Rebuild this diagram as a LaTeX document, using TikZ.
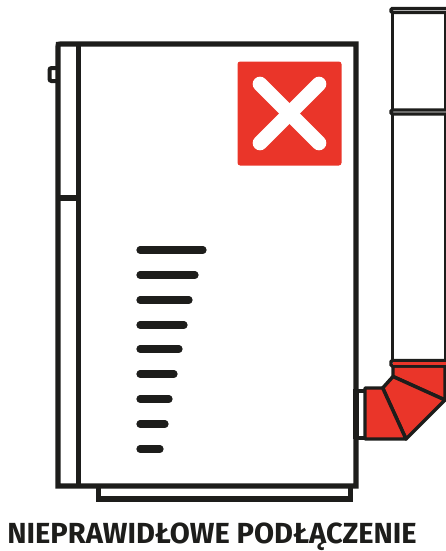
\documentclass[tikz,border=0pt]{standalone}
\usepackage{fontspec}
\setmainfont{Fira Sans}
\usepackage{xcolor}
\definecolor{ink}{HTML}{1D1D1B}
\definecolor{alarm}{HTML}{EA3529}
\tikzset{
  body/.style={draw=ink, line width=4pt},
  flue/.style={draw=ink, line width=2.2pt},
  collar/.style={draw=ink, line width=2.6pt},
  elbow/.style={draw=ink, fill=alarm, line width=2.6pt, line join=round},
}

\begin{document}
\begin{tikzpicture}[x=0.75pt,y=-0.75pt]
  \useasboundingbox (0,0) rectangle (446,551);

  % Base
  \draw[body] (98.5,486) -- (98.5,499) -- (350.5,499) -- (350.5,486);

  % Casing
  \draw[body] (58,47) .. controls (58,44) .. (61,44) -- (356,44) -- (356,486) -- (58,486) -- cycle;
  \draw[body] (78.5,44) -- (78.5,486);
  \draw[body] (58,198) -- (78.5,198);
  \draw[draw=ink, line width=3pt, rounded corners=1.5pt] (58,68) -- (49.5,68) -- (49.5,81) -- (58,81);

  % Display lines
  \foreach \ly/\lx in {250/203,275/195,300/189,325/184,349/179,374/174,399/169,424/165,449/160}
    \draw[draw=ink, line width=5.4pt, line cap=round] (140,\ly) -- (\lx,\ly);

  % Warning sign
  \fill[alarm, rounded corners=2pt] (237.5,61.5) rectangle (341.5,165.5);
  \draw[white, line width=11pt, line cap=round] (260,84) -- (319,143);
  \draw[white, line width=11pt, line cap=round] (319,84) -- (260,143);

  % Flue pipe
  \draw[flue] (392.7,12) -- (392.7,110);
  \draw[flue] (392.7,115) -- (392.7,362);
  \draw[flue] (445,12) -- (445,110);
  \draw[flue] (445,115) -- (445,362);
  \draw[collar, rounded corners=1pt] (446,8.5) -- (391,8.5) -- (391,12.5) -- (446,12.5);
  \draw[collar, rounded corners=1pt] (446,110) -- (391,110) -- (391,114) -- (446,114);

  % Elbow
  \draw[elbow] (393,366) -- (445,366) -- (445,400) -- (393,376.5) -- cycle;
  \draw[elbow] (393,376.5) -- (445,400) -- (406,439) -- (382.7,388) -- cycle;
  \draw[elbow] (365,388) -- (382.7,388) -- (406,439) -- (365,439) -- cycle;
  \draw[collar, rounded corners=1pt] (446,360.5) -- (391,360.5) -- (391,366) -- (446,366);
  \fill[alarm] (392.5,362.2) rectangle (446,364.6);

  % Stub
  \draw[draw=ink, line width=3pt] (356,390.7) -- (365,390.7);
  \draw[draw=ink, line width=3pt] (356,437.5) -- (365,437.5);
  \draw[draw=ink, line width=4.4pt] (356,388.5) -- (356,439);

  \node[text=ink, font=\fontsize{21.8pt}{24pt}\bfseries, anchor=base] (caption) at (212,543) {NIEPRAWIDŁOWE PODŁĄCZENIE};
\end{tikzpicture}
\end{document}
